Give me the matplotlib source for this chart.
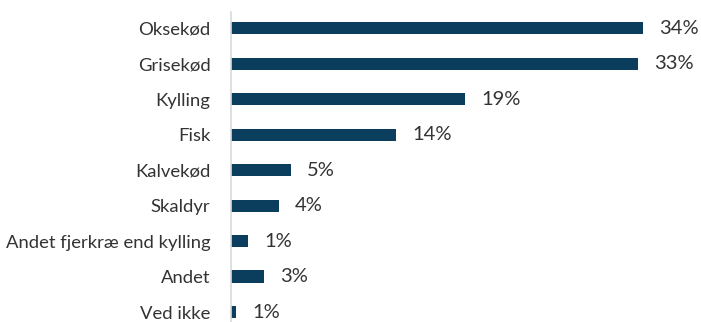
import matplotlib.pyplot as plt

categories = ["Oksekød", "Grisekød", "Kylling", "Fisk", "Kalvekød", "Skaldyr",
              "Andet fjerkræ end kylling", "Andet", "Ved ikke"]
values = [34.0, 33.6, 19.3, 13.6, 4.9, 3.9, 1.4, 2.7, 0.4]
value_labels = ["34%", "33%", "19%", "14%", "5%", "4%", "1%", "3%", "1%"]

plt.rcParams['font.family'] = ['Lato', 'DejaVu Sans']

fig = plt.figure(figsize=(7.01, 3.22), dpi=100)
ax = fig.add_axes([0.330, -0.0186, 0.656, 0.981])

ypos = list(range(len(categories)))
ax.barh(ypos, values, height=0.34, color='#0b3d5c')
ax.set_ylim(8.45, -0.45)
ax.set_xlim(0, 38)

# percent labels right of each bar
for y, v, lab in zip(ypos, values, value_labels):
    ax.annotate(lab, (v, y), xytext=(16, 0), textcoords='offset pixels',
                va='center', ha='left', fontsize=14.5, color='#333333')

ax.set_yticks(ypos)
ax.set_yticklabels(categories, fontsize=13.3, color='#333333')
ax.tick_params(axis='y', length=0, pad=15)
ax.set_xticks([])
for s in ['top', 'right', 'bottom']:
    ax.spines[s].set_visible(False)
ax.spines['left'].set_color('#d9d9d9')
ax.spines['left'].set_linewidth(1.2)

fig.savefig('out.png', dpi=100)
